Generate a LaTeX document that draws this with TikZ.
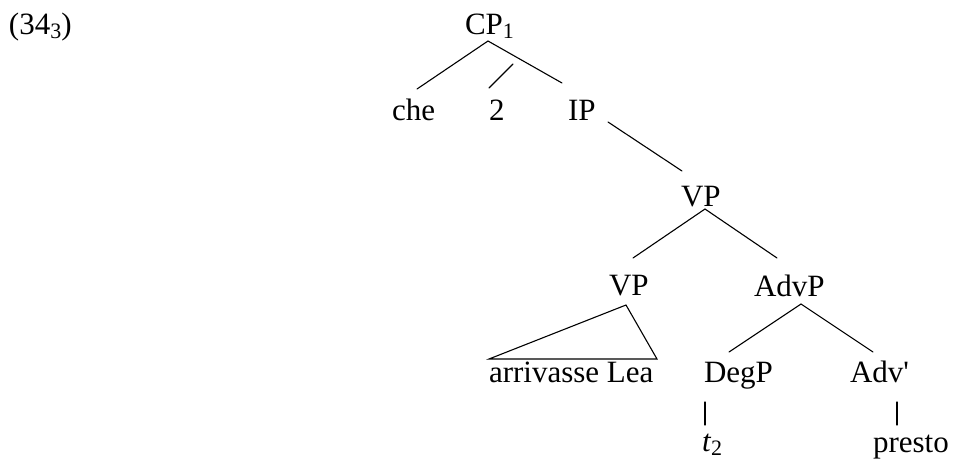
\documentclass[tikz,border=0pt]{standalone}
\usepackage{fontspec}
\setmainfont{Liberation Serif}
\newcommand\mysub[1]{\raisebox{-4pt}{\fontsize{22}{24}\selectfont #1}}
\begin{document}
\begin{tikzpicture}[x=1pt,y=-1pt,
  lab/.style={anchor=base west,inner sep=0pt,outer sep=0pt,font=\fontsize{31}{36}\selectfont},
  br/.style={line width=1.1pt,line cap=round}]
\useasboundingbox (0,0) rectangle (953,459);
% labels
\node[lab] (ex) at (9,34) {(34\mysub{3})};
\node[lab] (cp) at (465,34) {CP\mysub{1}};
\node[lab] (che) at (392,120) {che};
\node[lab] (two) at (489,120) {2};
\node[lab] (ip) at (568,120) {IP};
\node[lab] (vp1) at (681,206) {VP};
\node[lab] (vp2) at (609,295) {VP};
\node[lab] (al) at (489,382) {arrivasse Lea};
\node[lab] (advp) at (754,296) {AdvP};
\node[lab] (degp) at (704,382) {DegP};
\node[lab] (advb) at (850,382) {Adv\textquotesingle};
\node[lab] (t) at (702,451) {\textit{t}\mysub{2}};
\node[lab] (presto) at (873,452) {presto};
% branches
\draw[br] ([shift={(23,7)}]cp.base west) -- ([shift={(25,-31)}]che.base west);
\draw[br] ([shift={(24,-56)}]two.base west) -- ([shift={(0,-32)}]two.base west);
\draw[br] ([shift={(23,7)}]cp.base west) -- ([shift={(-6,-37)}]ip.base west);
\draw[br] ([shift={(40,2)}]ip.base west) -- ([shift={(1,-35)}]vp1.base west);
\draw[br] ([shift={(24,3)}]vp1.base west) -- ([shift={(24,-37)}]vp2.base west);
\draw[br] ([shift={(24,3)}]vp1.base west) -- ([shift={(23,-38)}]advp.base west);
\draw[br,line join=miter] ([shift={(17,10)}]vp2.base west) -- ([shift={(0,-23)}]al.base west) -- ([shift={(168,-23)}]al.base west) -- cycle;
\draw[br] ([shift={(47,8)}]advp.base west) -- ([shift={(25,-30)}]degp.base west);
\draw[br] ([shift={(47,8)}]advp.base west) -- ([shift={(23,-30)}]advb.base west);
\draw[br] ([shift={(1,20)}]degp.base west) -- ([shift={(3,-26)}]t.base west);
\draw[br] ([shift={(47,20)}]advb.base west) -- ([shift={(24,-27)}]presto.base west);
\end{tikzpicture}
\end{document}
